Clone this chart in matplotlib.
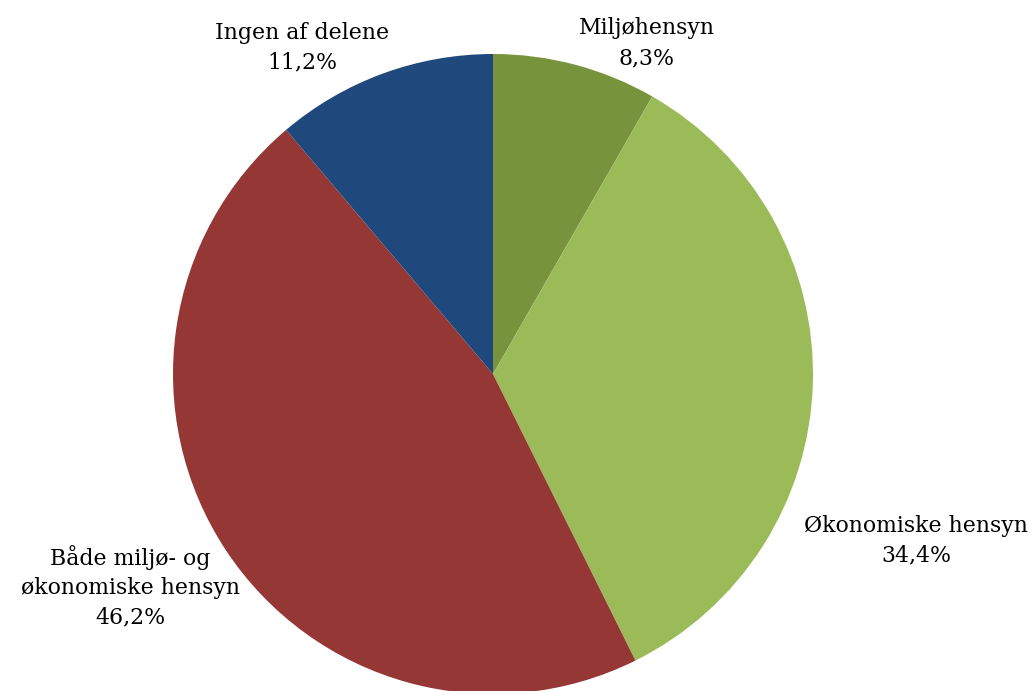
import matplotlib.pyplot as plt

# data
labels = ["Miljøhensyn", "Økonomiske hensyn", "Både miljø- og\nøkonomiske hensyn", "Ingen af delene"]
values = [8.3, 34.4, 46.2, 11.2]
colors = ["#77933C", "#9BBB59", "#953735", "#1F497D"]
label_pos = [(0.48, 1.034), (1.322, -0.52), (-1.134, -0.665), (-0.597, 1.02)]

fig = plt.figure(figsize=(10.36, 6.91), dpi=100)
ax = fig.add_axes([173/1036, -3/691, 640/1036, 640/691])
ax.pie(values, colors=colors, startangle=90, counterclock=False, radius=1,
       wedgeprops=dict(linewidth=0))
ax.set_xlim(-1, 1)
ax.set_ylim(-1, 1)
ax.set_aspect("equal")
ax.axis("off")

for lab, v, (x, y) in zip(labels, values, label_pos):
    txt = lab + "\n" + f"{v:.1f}".replace(".", ",") + "%"
    ax.text(x, y, txt, ha="center", va="center", fontsize=15.8,
            family="DejaVu Serif", linespacing=1.45, clip_on=False)

fig.savefig("out.png", dpi=100)
